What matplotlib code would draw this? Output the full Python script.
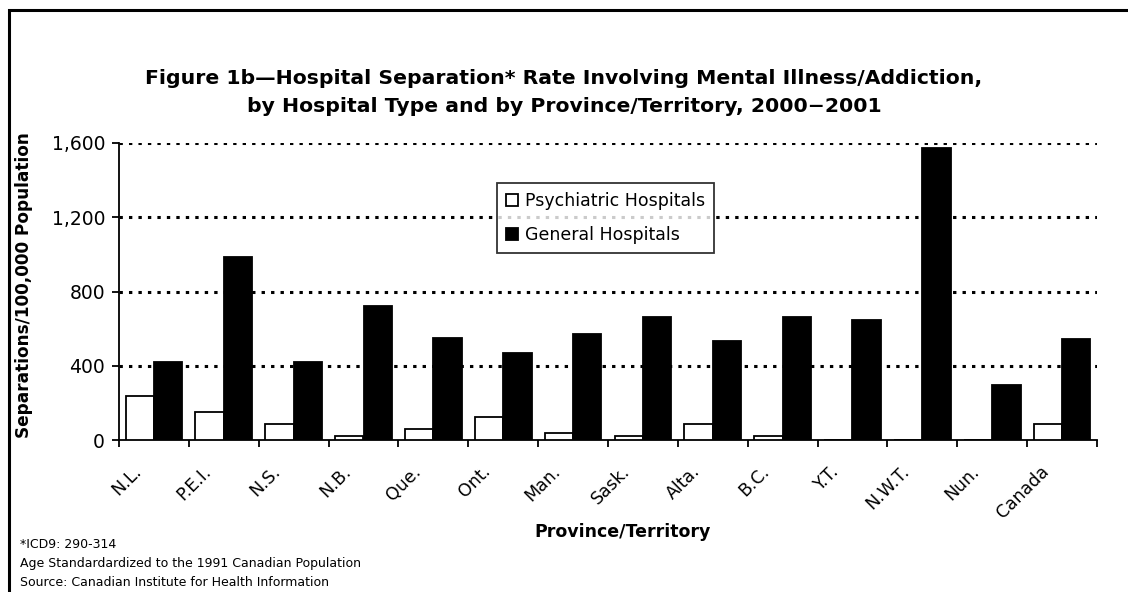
import numpy as np
import matplotlib
matplotlib.use("Agg")
import matplotlib.pyplot as plt
import matplotlib.transforms as mtransforms
from matplotlib.patches import Rectangle

regions = ['N.L.', 'P.E.I.', 'N.S.', 'N.B.', 'Que.', 'Ont.', 'Man.', 'Sask.',
           'Alta.', 'B.C.', 'Y.T.', 'N.W.T.', 'Nun.', 'Canada']
psychiatric = [237, 151, 86, 21, 58, 126, 36, 21, 86, 21, 0, 0, 0, 86]
general = [418, 987, 418, 722, 551, 467, 569, 664, 533, 664, 646, 1573, 295, 542]
y_ticks = [0, 400, 800, 1200, 1600]
y_tick_labels = ['0', '400', '800', '1,200', '1,600']

title = ("Figure 1b\u2014Hospital Separation* Rate Involving Mental Illness/Addiction,\n"
         "by Hospital Type and by Province/Territory, 2000\u22122001")
notes = ["*ICD9: 290-314",
         "Age Standardardized to the 1991 Canadian Population",
         "Source: Canadian Institute for Health Information"]

plt.rcParams['font.family'] = ['DejaVu Sans']

W, H = 1128, 592
fig = plt.figure(figsize=(W / 100, H / 100), dpi=100)
fig.patch.set_facecolor('white')

# frame round the figure (runs off right/bottom edge)
fig.patches.append(Rectangle((8.5 / W, -0.1), 1.2, (H - 9.5) / H + 0.1,
                             transform=fig.transFigure, fill=False,
                             edgecolor='black', linewidth=2.2))

left, right = 119 / W, 1097 / W
bottom, top = (H - 440) / H, (H - 143) / H
ax = fig.add_axes([left, bottom, right - left, top - bottom])

x = np.arange(len(regions))
bw = 0.405
ax.bar(x - bw / 2, psychiatric, bw, color='white', edgecolor='black',
       linewidth=1.3, label='Psychiatric Hospitals', zorder=3)
ax.bar(x + bw / 2, general, bw, color='black', edgecolor='black',
       linewidth=1.3, label='General Hospitals', zorder=3)

ax.set_xlim(-0.5, len(regions) - 0.5)
ax.set_ylim(0, 1600)

for v in y_ticks[1:]:
    ax.axhline(v, color='black', linewidth=2.2, linestyle=(0, (1.1, 2.0)), zorder=1)

ax.set_yticks(y_ticks)
ax.set_yticklabels(y_tick_labels, fontsize=13.5)
ax.tick_params(axis='y', direction='out', length=5, width=1.3, pad=5)

# tick marks between groups, labels on centres
ax.set_xticks(np.arange(len(regions) + 1) - 0.5)
ax.set_xticklabels([])
ax.set_xticks(x, minor=True)
ax.set_xticklabels(regions, minor=True, rotation=45, ha='right', va='top',
                   rotation_mode='anchor', fontsize=12.5)
ax.tick_params(axis='x', which='major', direction='out', length=5, width=1.3)
ax.tick_params(axis='x', which='minor', length=0, pad=16)
offset = mtransforms.ScaledTranslation(-0.22, 0, fig.dpi_scale_trans)
for lbl in ax.get_xticklabels(minor=True):
    lbl.set_transform(lbl.get_transform() + offset)

for s in ['top', 'right']:
    ax.spines[s].set_visible(False)
for s in ['left', 'bottom']:
    ax.spines[s].set_linewidth(1.3)

ax.set_ylabel('Separations/100,000 Population', fontsize=12.2, fontweight='bold')
ax.yaxis.set_label_coords(-0.088, 0.52)

leg = ax.legend(loc='upper left',
                bbox_to_anchor=((497 - 119) / (1097 - 119), (440 - 183) / (440 - 143)),
                fontsize=12.5, frameon=True, fancybox=False, edgecolor='black',
                handlelength=0.7, handleheight=0.7, handletextpad=0.4,
                borderpad=0.5, labelspacing=0.95, borderaxespad=0)
leg.get_frame().set_linewidth(1.3)
leg.set_zorder(5)

fig.text(564 / W, (H - 93) / H, title, ha='center', va='center', fontsize=14.7,
         fontweight='bold', linespacing=1.6)
fig.text(623 / W, (H - 532) / H, 'Province/Territory', ha='center', va='center',
         fontsize=12.5, fontweight='bold')
for i, t in enumerate(notes):
    fig.text(20 / W, (H - 545 - i * 19) / H, t, ha='left', va='center', fontsize=9)

fig.savefig('out.png', dpi=100)
